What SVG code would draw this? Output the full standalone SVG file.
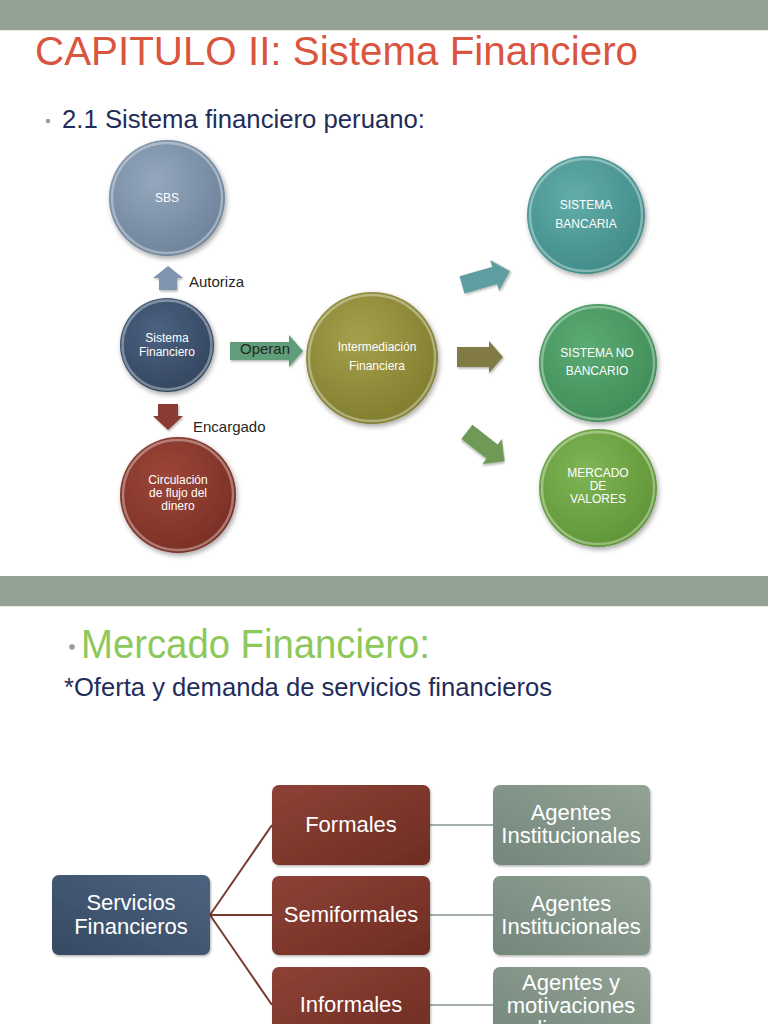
<svg xmlns="http://www.w3.org/2000/svg" width="768" height="1024" viewBox="0 0 768 1024">
<style>
  .t{font-family:"Liberation Sans",Arial,sans-serif}
  .ct{font-family:"Liberation Sans",Arial,sans-serif;font-size:12px;fill:#ffffff;text-anchor:middle}
  .lbl{font-family:"Liberation Sans",Arial,sans-serif;font-size:15px;fill:#262626}
  .bt{font-family:"Liberation Sans",Arial,sans-serif;font-size:22px;fill:#ffffff;text-anchor:middle}
  .rim{fill:none;stroke:#ffffff;stroke-opacity:0.35;stroke-width:2.5}
  .brn{stroke:#7a3a30;stroke-width:2;fill:none}
  .gry{stroke:#a3afa5;stroke-width:2;fill:none}
</style>
<defs>
  <filter id="sh" x="-20%" y="-20%" width="140%" height="140%">
    <feDropShadow dx="1.5" dy="2.5" stdDeviation="2.5" flood-color="#000" flood-opacity="0.35"/>
  </filter>
  <filter id="shs" x="-20%" y="-20%" width="140%" height="140%">
    <feDropShadow dx="1" dy="1.5" stdDeviation="1.2" flood-color="#000" flood-opacity="0.3"/>
  </filter>
  <radialGradient id="gSBS" cx="40%" cy="35%" r="70%"><stop offset="0" stop-color="#94a7bd"/><stop offset="1" stop-color="#6c8299"/></radialGradient>
  <radialGradient id="gSF" cx="40%" cy="35%" r="70%"><stop offset="0" stop-color="#4b6180"/><stop offset="1" stop-color="#33465f"/></radialGradient>
  <radialGradient id="gCI" cx="40%" cy="35%" r="70%"><stop offset="0" stop-color="#9c4638"/><stop offset="1" stop-color="#7a2f25"/></radialGradient>
  <radialGradient id="gIN" cx="40%" cy="35%" r="70%"><stop offset="0" stop-color="#a4a04a"/><stop offset="1" stop-color="#807c2e"/></radialGradient>
  <radialGradient id="gSB" cx="40%" cy="35%" r="70%"><stop offset="0" stop-color="#62adaa"/><stop offset="1" stop-color="#3f8a87"/></radialGradient>
  <radialGradient id="gNB" cx="40%" cy="35%" r="70%"><stop offset="0" stop-color="#5cab74"/><stop offset="1" stop-color="#3f8c57"/></radialGradient>
  <radialGradient id="gMV" cx="40%" cy="35%" r="70%"><stop offset="0" stop-color="#80b556"/><stop offset="1" stop-color="#5e9436"/></radialGradient>
  <linearGradient id="gBlue" x1="1" y1="0" x2="0" y2="1"><stop offset="0" stop-color="#4d6380"/><stop offset="1" stop-color="#364a63"/></linearGradient>
  <linearGradient id="gBrown" x1="0" y1="0" x2="1" y2="1"><stop offset="0" stop-color="#8e4236"/><stop offset="1" stop-color="#6e2c22"/></linearGradient>
  <linearGradient id="gGray" x1="1" y1="0" x2="0" y2="1"><stop offset="0" stop-color="#93a396"/><stop offset="1" stop-color="#73877a"/></linearGradient>
</defs>

<rect x="0" y="0" width="768" height="1024" fill="#ffffff"/>

<!-- slide 1 -->
<rect x="0" y="0" width="768" height="30" fill="#93a195"/>
<rect x="0" y="30" width="768" height="1" fill="#e6ebe6"/>
<text class="t" x="35" y="65" font-size="41" fill="#d9553f" textLength="603" lengthAdjust="spacingAndGlyphs">CAPITULO II: Sistema Financiero</text>
<circle cx="48" cy="121" r="2.2" fill="#9a9a9a"/>
<text class="t" x="62" y="128" font-size="25" fill="#1f2d5a" textLength="363" lengthAdjust="spacingAndGlyphs">2.1 Sistema financiero peruano:</text>

<g id="connectors1">
  <g id="arr-autoriza" filter="url(#shs)"><polygon points="168,266 183,278 177,278 177,290 159,290 159,278 153,278" fill="#7f95ae"/></g>
  <g id="arr-encargado" filter="url(#shs)"><polygon points="158,404 178,404 178,416 183,416 168,430 153,416 158,416" fill="#8b3a30"/></g>
  <g id="arr-operan" filter="url(#shs)"><polygon points="230,342 289,342 289,335 303,351 289,367 289,360 230,360" fill="#5e9e78"/></g>
  <g id="arr-bancaria" filter="url(#shs)" transform="rotate(-16 486 278)"><polygon points="461,269 495,269 495,262 511,278 495,294 495,287 461,287" fill="#5e9ea0"/></g>
  <g id="arr-nobancario" filter="url(#shs)"><polygon points="457,347 489,347 489,341 503,357 489,373 489,367 457,367" fill="#827a45"/></g>
  <g id="arr-mercado" filter="url(#shs)" transform="rotate(38 485 446)"><polygon points="462,437 494,437 494,430 510,446 494,462 494,455 462,455" fill="#6e9a55"/></g>
  <text class="lbl" x="189" y="287">Autoriza</text>
  <text class="lbl" x="193" y="432">Encargado</text>
  <text class="lbl" x="240" y="354">Operan</text>
</g>

<g id="n-sbs">
  <circle cx="167" cy="198" r="58" fill="url(#gSBS)" filter="url(#sh)"/>
  <circle cx="167" cy="198" r="55" class="rim"/>
  <text class="ct" x="167" y="202">SBS</text>
</g>
<g id="n-sistema">
  <circle cx="167" cy="345" r="47" fill="url(#gSF)" filter="url(#sh)"/>
  <circle cx="167" cy="345" r="44.5" class="rim"/>
  <text class="ct" x="167" y="342">Sistema</text>
  <text class="ct" x="167" y="356">Financiero</text>
</g>
<g id="n-circulacion">
  <circle cx="178" cy="495" r="58" fill="url(#gCI)" filter="url(#sh)"/>
  <circle cx="178" cy="495" r="55" class="rim"/>
  <text class="ct" x="178" y="484" font-size="12.5">Circulación</text>
  <text class="ct" x="178" y="497" font-size="12.5">de flujo del</text>
  <text class="ct" x="178" y="510" font-size="12.5">dinero</text>
</g>
<g id="n-intermediacion">
  <circle cx="372" cy="358" r="66" fill="url(#gIN)" filter="url(#sh)"/>
  <circle cx="372" cy="358" r="63" class="rim"/>
  <text class="ct" x="377" y="351">Intermediación</text>
  <text class="ct" x="377" y="370">Financiera</text>
</g>
<g id="n-bancaria">
  <circle cx="586" cy="215" r="59" fill="url(#gSB)" filter="url(#sh)"/>
  <circle cx="586" cy="215" r="56" class="rim"/>
  <text class="ct" x="586" y="209">SISTEMA</text>
  <text class="ct" x="586" y="228">BANCARIA</text>
</g>
<g id="n-nobancario">
  <circle cx="598" cy="363" r="59" fill="url(#gNB)" filter="url(#sh)"/>
  <circle cx="598" cy="363" r="56" class="rim"/>
  <text class="ct" x="597" y="357">SISTEMA NO</text>
  <text class="ct" x="597" y="375">BANCARIO</text>
</g>
<g id="n-mercado">
  <circle cx="598" cy="488" r="59" fill="url(#gMV)" filter="url(#sh)"/>
  <circle cx="598" cy="488" r="56" class="rim"/>
  <text class="ct" x="598" y="477">MERCADO</text>
  <text class="ct" x="598" y="490">DE</text>
  <text class="ct" x="598" y="503">VALORES</text>
</g>

<!-- slide 2 -->
<rect x="0" y="576" width="768" height="30" fill="#93a195"/>
<rect x="0" y="606" width="768" height="1" fill="#e6ebe6"/>
<circle cx="72" cy="647" r="2.8" fill="#9a9a9a"/>
<text class="t" x="81" y="658" font-size="40" fill="#8dc85a" textLength="349" lengthAdjust="spacingAndGlyphs">Mercado Financiero:</text>
<text class="t" x="64" y="696" font-size="25" fill="#1f2d5a" textLength="488" lengthAdjust="spacingAndGlyphs">*Oferta y demanda de servicios financieros</text>

<g id="connectors2">
  <line class="brn" x1="210" y1="915" x2="272" y2="825"/>
  <line class="brn" x1="210" y1="915" x2="272" y2="915"/>
  <line class="brn" x1="210" y1="915" x2="272" y2="1005"/>
  <line class="gry" x1="430" y1="825" x2="493" y2="825"/>
  <line class="gry" x1="430" y1="915" x2="493" y2="915"/>
  <line class="gry" x1="430" y1="1005" x2="493" y2="1005"/>
</g>

<g id="b-servicios">
  <rect x="52" y="875" width="158" height="80" rx="7" fill="url(#gBlue)" filter="url(#shs)"/>
  <text class="bt" x="131" y="910">Servicios</text>
  <text class="bt" x="131" y="934">Financieros</text>
</g>
<g id="b-formales">
  <rect x="272" y="785" width="158" height="80" rx="7" fill="url(#gBrown)" filter="url(#shs)"/>
  <text class="bt" x="351" y="832">Formales</text>
</g>
<g id="b-semiformales">
  <rect x="272" y="876" width="158" height="79" rx="7" fill="url(#gBrown)" filter="url(#shs)"/>
  <text class="bt" x="351" y="922">Semiformales</text>
</g>
<g id="b-informales">
  <rect x="272" y="967" width="158" height="80" rx="7" fill="url(#gBrown)" filter="url(#shs)"/>
  <text class="bt" x="351" y="1012">Informales</text>
</g>
<g id="b-agentes1">
  <rect x="493" y="785" width="157" height="80" rx="7" fill="url(#gGray)" filter="url(#shs)"/>
  <text class="bt" x="571" y="820">Agentes</text>
  <text class="bt" x="571" y="843">Institucionales</text>
</g>
<g id="b-agentes2">
  <rect x="493" y="876" width="157" height="79" rx="7" fill="url(#gGray)" filter="url(#shs)"/>
  <text class="bt" x="571" y="911">Agentes</text>
  <text class="bt" x="571" y="934">Institucionales</text>
</g>
<g id="b-agentes3">
  <rect x="493" y="967" width="157" height="80" rx="7" fill="url(#gGray)" filter="url(#shs)"/>
  <text class="bt" x="571" y="990">Agentes y</text>
  <text class="bt" x="571" y="1013">motivaciones</text>
  <text class="bt" x="571" y="1036">diversas</text>
</g>
</svg>
